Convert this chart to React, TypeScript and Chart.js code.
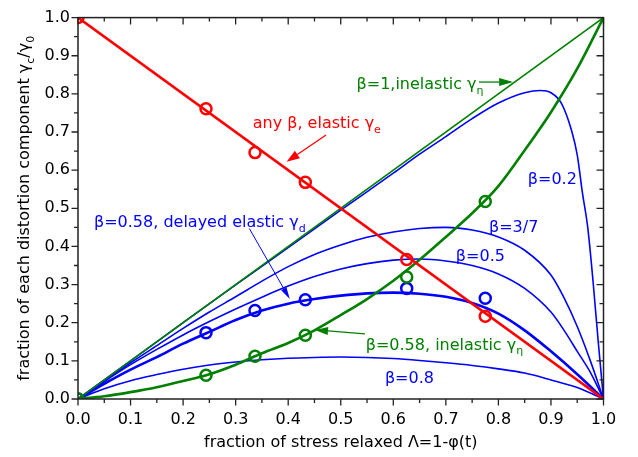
import React, { useEffect, useRef } from 'react';
import { Chart, registerables } from 'chart.js';

Chart.register(...registerables);

const FAMILY = '"DejaVu Sans", sans-serif';

// ---------- data ----------
const tickValues = [0, 0.1, 0.2, 0.3, 0.4, 0.5, 0.6, 0.7, 0.8, 0.9, 1.0];
const tickLabels = ['0.0', '0.1', '0.2', '0.3', '0.4', '0.5', '0.6', '0.7', '0.8', '0.9', '1.0'];

const lam = [0, 0.05, 0.1, 0.15, 0.2, 0.25, 0.3, 0.35, 0.4, 0.45, 0.5, 0.55, 0.6, 0.65, 0.7, 0.75, 0.8, 0.85, 0.9, 0.95, 1.0];
const lamTail = [0, 0.05, 0.1, 0.15, 0.2, 0.25, 0.3, 0.35, 0.4, 0.45, 0.5, 0.55, 0.6, 0.65, 0.7, 0.75, 0.8, 0.85, 0.9, 0.925, 0.95, 0.975, 1.0];
const lamBeta02 = [0, 0.1, 0.2, 0.3, 0.4, 0.5, 0.6, 0.65, 0.7, 0.75, 0.8, 0.85, 0.88, 0.9, 0.92, 0.94, 0.95, 0.96, 0.97, 0.98, 0.99, 1.0];

const elasticX = [0, 1];
const elasticY = [1, 0];
const inelasticBeta1X = [0, 1];
const inelasticBeta1Y = [0, 1];

const inelasticBeta058Y = [0, 0.007, 0.018, 0.031, 0.047, 0.065, 0.09, 0.12, 0.147, 0.18, 0.22, 0.262, 0.31, 0.365, 0.425, 0.487, 0.558, 0.652, 0.752, 0.866, 1.0];
const delayedBeta058Y = [0, 0.04, 0.077, 0.11, 0.145, 0.176, 0.207, 0.232, 0.25, 0.262, 0.271, 0.277, 0.279, 0.276, 0.268, 0.252, 0.224, 0.18, 0.125, 0.065, 0];
const delayedBeta08Y = [0, 0.027, 0.048, 0.064, 0.078, 0.089, 0.097, 0.103, 0.107, 0.109, 0.11, 0.109, 0.106, 0.101, 0.095, 0.088, 0.079, 0.068, 0.05, 0.03, 0];
const delayedBeta05Y = [0, 0.046, 0.09, 0.13, 0.168, 0.203, 0.236, 0.267, 0.296, 0.321, 0.341, 0.355, 0.364, 0.367, 0.362, 0.35, 0.328, 0.29, 0.228, 0.18, 0.125, 0.07, 0];
const delayedBeta37Y = [0, 0.048, 0.095, 0.14, 0.185, 0.228, 0.268, 0.309, 0.347, 0.379, 0.404, 0.424, 0.438, 0.447, 0.45, 0.443, 0.425, 0.39, 0.325, 0.265, 0.19, 0.1, 0];
const delayedBeta02Y = [0, 0.1, 0.2, 0.299, 0.397, 0.495, 0.592, 0.642, 0.688, 0.735, 0.776, 0.803, 0.809, 0.803, 0.775, 0.70, 0.64, 0.54, 0.45, 0.31, 0.15, 0];

const measuredX = [0, 0.2436, 0.3368, 0.4326, 0.6255, 0.775];
const measuredElastic = [1.0, 0.761, 0.646, 0.568, 0.366, 0.217];
const measuredDelayed = [0, 0.174, 0.232, 0.26, 0.29, 0.264];
const measuredInelastic = [0, 0.0625, 0.112, 0.167, 0.32, 0.518];

// ---------- helpers ----------
const RED = '#ff0000';
const GREEN = '#008000';
const BLUE = '#0000ff';

const pts = (xs: number[], ys: number[]) => xs.map((x, i) => ({ x, y: ys[i] }));

type Seg = { t: string; sub?: boolean };

function richWidth(ctx: CanvasRenderingContext2D, segs: Seg[], size: number) {
  let w = 0;
  for (const s of segs) {
    ctx.font = `${s.sub ? Math.round(size * 0.68) : size}px ${FAMILY}`;
    w += ctx.measureText(s.t).width;
  }
  return w;
}

function drawRich(ctx: CanvasRenderingContext2D, x: number, y: number, segs: Seg[], color: string, size: number) {
  let cx = x;
  ctx.fillStyle = color;
  ctx.textBaseline = 'alphabetic';
  ctx.textAlign = 'left';
  for (const s of segs) {
    ctx.font = `${s.sub ? Math.round(size * 0.68) : size}px ${FAMILY}`;
    ctx.fillText(s.t, cx, y + (s.sub ? size * 0.3 : 0));
    cx += ctx.measureText(s.t).width;
  }
}

function drawArrow(ctx: CanvasRenderingContext2D, x1: number, y1: number, x2: number, y2: number, color: string, lw: number, hl: number, hw: number) {
  const a = Math.atan2(y2 - y1, x2 - x1);
  const bx = x2 - hl * Math.cos(a);
  const by = y2 - hl * Math.sin(a);
  ctx.strokeStyle = color;
  ctx.lineWidth = lw;
  ctx.beginPath();
  ctx.moveTo(x1, y1);
  ctx.lineTo(bx, by);
  ctx.stroke();
  ctx.fillStyle = color;
  ctx.beginPath();
  ctx.moveTo(x2, y2);
  ctx.lineTo(bx + (hw / 2) * Math.sin(a), by - (hw / 2) * Math.cos(a));
  ctx.lineTo(bx - (hw / 2) * Math.sin(a), by + (hw / 2) * Math.cos(a));
  ctx.closePath();
  ctx.fill();
}

const labels = [
  { x: 0.3325, y: 0.711, color: RED, segs: [{ t: 'any β, elastic γ' }, { t: 'e', sub: true }] },
  { x: 0.530, y: 0.812, color: GREEN, segs: [{ t: 'β=1,inelastic γ' }, { t: 'η', sub: true }] },
  { x: 0.856, y: 0.5625, color: BLUE, segs: [{ t: 'β=0.2' }] },
  { x: 0.782, y: 0.4375, color: BLUE, segs: [{ t: 'β=3/7' }] },
  { x: 0.719, y: 0.362, color: BLUE, segs: [{ t: 'β=0.5' }] },
  { x: 0.0304, y: 0.4505, color: BLUE, segs: [{ t: 'β=0.58, delayed elastic γ' }, { t: 'd', sub: true }] },
  { x: 0.5475, y: 0.1293, color: GREEN, segs: [{ t: 'β=0.58, inelastic γ' }, { t: 'η', sub: true }] },
  { x: 0.584, y: 0.0417, color: BLUE, segs: [{ t: 'β=0.8' }] },
];

const arrows = [
  { x1: 0.472, y1: 0.692, x2: 0.397, y2: 0.622, color: RED, lw: 1.3, hl: 13, hw: 9 },
  { x1: 0.763, y1: 0.831, x2: 0.828, y2: 0.831, color: GREEN, lw: 1.3, hl: 14, hw: 8 },
  { x1: 0.326, y1: 0.447, x2: 0.403, y2: 0.262, color: BLUE, lw: 1, hl: 12, hw: 6 },
  { x1: 0.546, y1: 0.171, x2: 0.451, y2: 0.181, color: GREEN, lw: 1.3, hl: 13, hw: 8 },
];

const decorPlugin = {
  id: 'decor',
  afterDraw(chart: any) {
    const { ctx, chartArea: ca, scales } = chart;
    const xs = scales.x;
    const ys = scales.y;
    ctx.save();
    // frame
    ctx.strokeStyle = '#222';
    ctx.lineWidth = 1.5;
    ctx.strokeRect(ca.left, ca.top, ca.right - ca.left, ca.bottom - ca.top);
    // ticks
    ctx.lineWidth = 1.3;
    ctx.beginPath();
    for (let i = 0; i <= 20; i++) {
      const v = i * 0.05;
      const major = i % 2 === 0;
      const px = xs.getPixelForValue(v);
      const py = ys.getPixelForValue(v);
      const lo = major ? 6.5 : 4;
      const li = major ? 7 : 4;
      ctx.moveTo(px, ca.bottom);
      ctx.lineTo(px, ca.bottom + lo);
      ctx.moveTo(px, ca.top);
      ctx.lineTo(px, ca.top + li);
      ctx.moveTo(ca.left, py);
      ctx.lineTo(ca.left - lo, py);
      ctx.moveTo(ca.right, py);
      ctx.lineTo(ca.right - li, py);
    }
    ctx.stroke();

    for (const a of arrows) {
      drawArrow(ctx, xs.getPixelForValue(a.x1), ys.getPixelForValue(a.y1), xs.getPixelForValue(a.x2), ys.getPixelForValue(a.y2), a.color, a.lw, a.hl, a.hw);
    }
    for (const l of labels) {
      drawRich(ctx, xs.getPixelForValue(l.x), ys.getPixelForValue(l.y), l.segs, l.color, 16);
    }

    const xt: Seg[] = [{ t: 'fraction of stress relaxed Λ=1-φ(t)' }];
    const w = richWidth(ctx, xt, 16);
    drawRich(ctx, (ca.left + ca.right) / 2 - w / 2, 447, xt, '#000', 16);

    const yt: Seg[] = [{ t: 'fraction of each distortion component γ' }, { t: 'c', sub: true }, { t: '/γ' }, { t: '0', sub: true }];
    const wy = richWidth(ctx, yt, 16);
    ctx.save();
    ctx.translate(29, (ca.top + ca.bottom) / 2);
    ctx.rotate(-Math.PI / 2);
    drawRich(ctx, -wy / 2, 0, yt, '#000', 16);
    ctx.restore();

    ctx.restore();
  },
};

export default function App() {
  const ref = useRef<HTMLCanvasElement | null>(null);
  useEffect(() => {
    if (!ref.current) return;
    const line = (data: any, color: string, width: number, extra: any = {}) => ({
      type: 'line',
      data,
      borderColor: color,
      backgroundColor: color,
      borderWidth: width,
      pointRadius: 0,
      fill: false,
      cubicInterpolationMode: 'monotone',
      ...extra,
    });
    const circles = (data: any, color: string) => ({
      type: 'line',
      data,
      showLine: false,
      borderColor: color,
      backgroundColor: 'rgba(0,0,0,0)',
      pointBorderColor: color,
      pointBackgroundColor: 'rgba(0,0,0,0)',
      pointRadius: 5.5,
      pointBorderWidth: 2.5,
      clip: 0,
    });
    const chart = new Chart(ref.current, {
      type: 'line',
      data: {
        datasets: [
          circles(pts(measuredX, measuredElastic), RED),
          circles(pts(measuredX, measuredInelastic), GREEN),
          circles(pts(measuredX, measuredDelayed), BLUE),
          line(pts(elasticX, elasticY), RED, 2.6, { cubicInterpolationMode: 'default', tension: 0 }),
          line(pts(lam, inelasticBeta058Y), GREEN, 2.6),
          line(pts(inelasticBeta1X, inelasticBeta1Y), GREEN, 1.6, { cubicInterpolationMode: 'default', tension: 0 }),
          line(pts(lam, delayedBeta058Y), BLUE, 2.6),
          line(pts(lam, delayedBeta08Y), BLUE, 1.6),
          line(pts(lamTail, delayedBeta05Y), BLUE, 1.6),
          line(pts(lamTail, delayedBeta37Y), BLUE, 1.6),
          line(pts(lamBeta02, delayedBeta02Y), BLUE, 1.6),
        ] as any,
      },
      options: {
        responsive: false,
        animation: false,
        layout: { padding: { left: 8, right: 34.5, top: 15, bottom: 0 } },
        plugins: { legend: { display: false }, tooltip: { enabled: false } },
        scales: {
          x: {
            type: 'linear',
            min: 0,
            max: 1,
            afterBuildTicks: (s: any) => { s.ticks = tickValues.map((v) => ({ value: v })); },
            afterFit: (s: any) => { s.height = 58; },
            ticks: {
              callback: (_v: any, i: number) => tickLabels[i],
              font: { family: FAMILY, size: 16 },
              color: '#000',
              padding: 11,
              maxRotation: 0,
              autoSkip: false,
            },
            grid: { display: false, drawTicks: false },
            border: { display: false },
          },
          y: {
            type: 'linear',
            min: 0,
            max: 1,
            afterBuildTicks: (s: any) => { s.ticks = tickValues.map((v) => ({ value: v })); },
            afterFit: (s: any) => { s.width = 70; },
            ticks: {
              callback: (_v: any, i: number) => tickLabels[i],
              font: { family: FAMILY, size: 16 },
              color: '#000',
              padding: 8,
              autoSkip: false,
            },
            grid: { display: false, drawTicks: false },
            border: { display: false },
          },
        },
      } as any,
      plugins: [decorPlugin],
    });
    return () => chart.destroy();
  }, []);
  return (
    <div style={{ position: 'absolute', left: 0, top: 0, width: 638, height: 457, background: '#fff' }}>
      <canvas ref={ref} width={638} height={457} />
    </div>
  );
}
